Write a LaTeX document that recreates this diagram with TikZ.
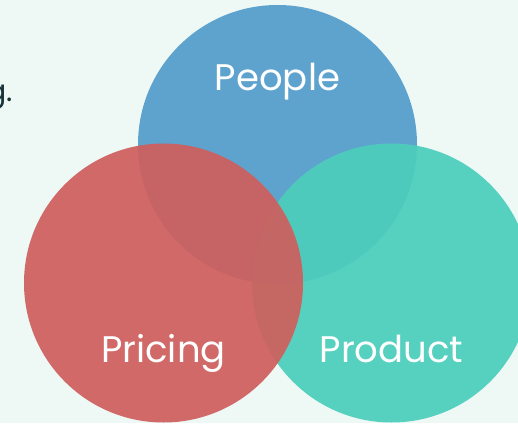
\documentclass[tikz,border=0pt]{standalone}
\usepackage{fontspec}
\setmainfont{Poppins}

\definecolor{fundo}{RGB}{238,249,246}
\definecolor{azul}{RGB}{84,157,204}
\definecolor{verde}{RGB}{76,206,187}
\definecolor{vermelho}{RGB}{206,95,93}
\definecolor{escuro}{RGB}{24,52,58}

\begin{document}
\begin{tikzpicture}[x=1pt, y=1pt]
        % Fundo
        \useasboundingbox (0,0) rectangle (518,423);
        \clip (0,0) rectangle (518,423);
        \fill[fundo] (0,0) rectangle (518,423);
        \node[anchor=base east, inner sep=0, text=escuro, font=\fontsize{30}{36}\selectfont] (texto) at (13,321) {g.};

        % Círculos
        \fill[azul, fill opacity=0.93] (277.5,278.5) circle (139.5);
        \fill[verde, fill opacity=0.93] (391.5,140) circle (139.5);
        \fill[vermelho, fill opacity=0.93] (163.5,140) circle (139.5);

        % Rótulos
        \node[anchor=base, text=white, font=\fontsize{37}{44}\selectfont] (people) at (277.5,332) {People};
        \node[anchor=base, text=white, font=\fontsize{37}{44}\selectfont] (pricing) at (163.5,61) {Pricing};
        \node[anchor=base, text=white, font=\fontsize{37}{44}\selectfont] (product) at (391.5,61) {Product};
    \end{tikzpicture}
\end{document}
